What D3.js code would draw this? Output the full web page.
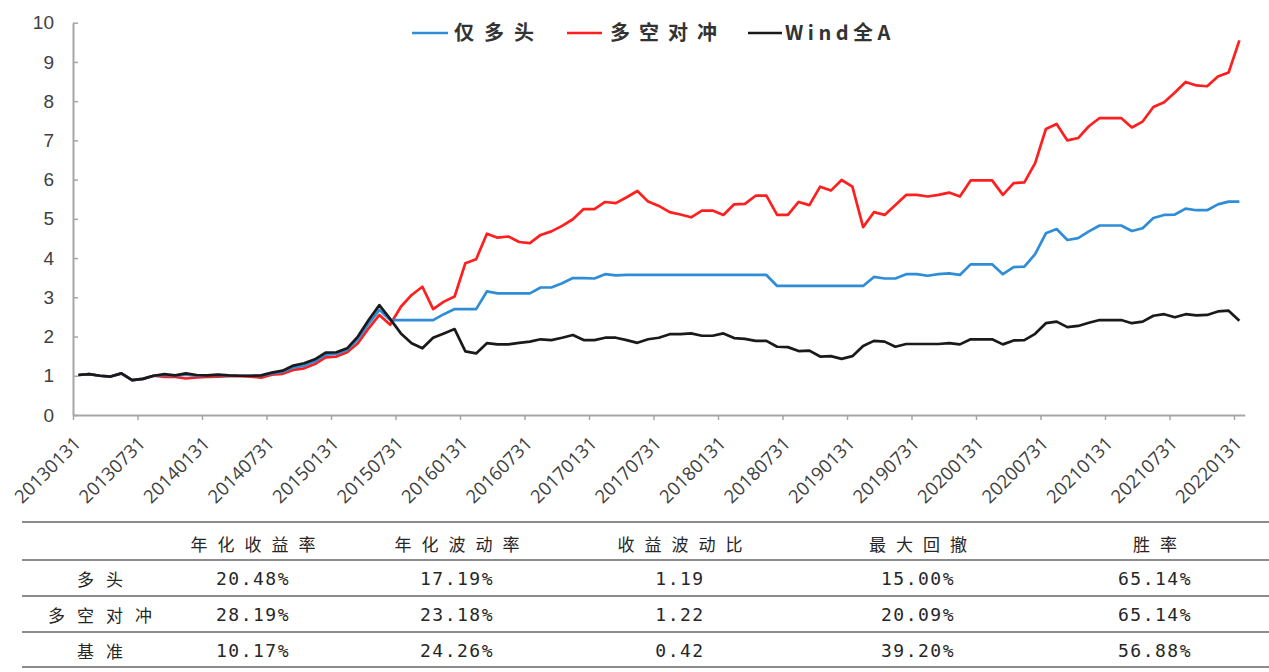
<!DOCTYPE html>
<html><head><meta charset="utf-8">
<script src="https://cdn.jsdelivr.net/npm/d3@7"></script>
<style>
html,body{margin:0;padding:0;background:#fff;}
svg{display:block;}
</style></head><body>
<svg id="chart" width="1269" height="672"></svg>
<script>
// ---------- DATA ----------
const dates = [
"20130131","20130228","20130331","20130430","20130531","20130630","20130731","20130831","20130930","20131031","20131130","20131231",
"20140131","20140228","20140331","20140430","20140531","20140630","20140731","20140831","20140930","20141031","20141130","20141231",
"20150131","20150228","20150331","20150430","20150531","20150630","20150731","20150831","20150930","20151031","20151130","20151231",
"20160131","20160229","20160331","20160430","20160531","20160630","20160731","20160831","20160930","20161031","20161130","20161231",
"20170131","20170228","20170331","20170430","20170531","20170630","20170731","20170831","20170930","20171031","20171130","20171231",
"20180131","20180228","20180331","20180430","20180531","20180630","20180731","20180831","20180930","20181031","20181130","20181231",
"20190131","20190228","20190331","20190430","20190531","20190630","20190731","20190831","20190930","20191031","20191130","20191231",
"20200131","20200229","20200331","20200430","20200531","20200630","20200731","20200831","20200930","20201031","20201130","20201231",
"20210131","20210228","20210331","20210430","20210531","20210630","20210731","20210831","20210930","20211031","20211130","20211231",
"20220131"];

const longOnly = [
1.02,1.04,1.00,0.98,1.06,0.89,0.92,1.00,1.02,1.00,1.03,1.00,
1.01,1.02,1.00,1.00,1.00,1.00,1.06,1.10,1.21,1.26,1.37,1.54,
1.56,1.66,1.93,2.33,2.68,2.42,2.42,2.42,2.42,2.42,2.57,2.70,
2.70,2.70,3.15,3.10,3.10,3.10,3.10,3.25,3.25,3.36,3.49,3.49,
3.48,3.59,3.56,3.57,3.57,3.57,3.57,3.57,3.57,3.57,3.57,3.57,
3.57,3.57,3.57,3.57,3.57,3.29,3.29,3.29,3.29,3.29,3.29,3.29,
3.29,3.29,3.52,3.48,3.48,3.59,3.59,3.55,3.59,3.61,3.57,3.84,
3.84,3.84,3.59,3.77,3.78,4.10,4.63,4.74,4.46,4.51,4.68,4.83,
4.83,4.83,4.69,4.76,5.02,5.10,5.11,5.26,5.22,5.22,5.37,5.44,
5.44];

const longShort = [
1.02,1.04,1.00,0.98,1.06,0.89,0.92,1.00,0.97,0.97,0.93,0.96,
0.97,0.98,0.99,0.99,0.98,0.95,1.03,1.05,1.15,1.19,1.30,1.47,
1.49,1.60,1.83,2.21,2.55,2.30,2.76,3.06,3.27,2.70,2.89,3.02,
3.87,3.97,4.62,4.52,4.55,4.41,4.38,4.59,4.68,4.82,4.99,5.25,
5.25,5.43,5.40,5.55,5.71,5.44,5.33,5.17,5.11,5.04,5.21,5.21,
5.10,5.37,5.38,5.59,5.59,5.10,5.10,5.43,5.35,5.82,5.72,5.99,
5.82,4.79,5.17,5.10,5.35,5.61,5.61,5.57,5.61,5.67,5.57,5.98,
5.98,5.98,5.61,5.91,5.93,6.42,7.29,7.42,7.00,7.06,7.36,7.57,
7.57,7.57,7.33,7.48,7.85,7.97,8.22,8.49,8.40,8.38,8.63,8.73,
9.55];

const windA = [
1.02,1.04,1.00,0.98,1.06,0.89,0.92,1.00,1.04,1.01,1.06,1.02,
1.01,1.03,1.01,1.00,1.00,1.01,1.08,1.13,1.26,1.32,1.42,1.59,
1.60,1.70,2.00,2.42,2.80,2.45,2.08,1.83,1.70,1.97,2.08,2.19,
1.62,1.57,1.83,1.80,1.80,1.84,1.87,1.93,1.91,1.97,2.04,1.91,
1.91,1.97,1.97,1.91,1.84,1.93,1.97,2.06,2.06,2.08,2.02,2.02,
2.08,1.96,1.94,1.89,1.89,1.74,1.73,1.63,1.64,1.49,1.50,1.43,
1.50,1.76,1.89,1.87,1.74,1.81,1.81,1.81,1.81,1.83,1.80,1.93,
1.93,1.93,1.80,1.90,1.91,2.07,2.34,2.38,2.24,2.27,2.35,2.42,
2.42,2.42,2.34,2.38,2.53,2.57,2.49,2.57,2.54,2.55,2.64,2.66,
2.40];

const seriesNames = ["仅多头","多空对冲","Wind全A"];
const seriesColors = ["#2F8DD8","#FF1F1F","#1A1A1A"];

const xTickLabels = ["20130131","20130731","20140131","20140731","20150131","20150731","20160131","20160731",
"20170131","20170731","20180131","20180731","20190131","20190731","20200131","20200731","20210131","20210731","20220131"];
const yTicks = [0,1,2,3,4,5,6,7,8,9,10];

const tableHeaders = ["年化收益率","年化波动率","收益波动比","最大回撤","胜率"];
const tableRowLabels = ["多头","多空对冲","基准"];
const tableRow1 = ["20.48%","17.19%","1.19","15.00%","65.14%"];
const tableRow2 = ["28.19%","23.18%","1.22","20.09%","65.14%"];
const tableRow3 = ["10.17%","24.26%","0.42","39.20%","56.88%"];

// ---------- CHART ----------
const svg = d3.select("#chart");
const axisColor = "#A6A6A6";
const textColor = "#404040";

const x = d3.scaleLinear().domain([0, dates.length]).range([73, 1244.75]);
const y = d3.scaleLinear().domain([0, 10]).range([415, 22.7]);

// Y axis
const yAxis = d3.axisLeft(y).tickValues(yTicks).tickSizeInner(-5).tickSizeOuter(0).tickPadding(19);
const gy = svg.append("g").attr("transform", "translate(73,0)").call(yAxis);
gy.select(".domain").attr("stroke", axisColor).attr("stroke-width", 2);
gy.selectAll(".tick line").attr("stroke", axisColor).attr("stroke-width", 1.5);
gy.selectAll(".tick text").attr("fill", textColor)
  .style("font-family", "'Liberation Sans', Arial, sans-serif").style("font-size", "19px");

// X axis
const xAxis = d3.axisBottom(x)
  .tickValues(xTickLabels.map(l => dates.indexOf(l)))
  .tickFormat(i => dates[i]).tickSizeInner(5).tickSizeOuter(0).tickPadding(0);
const gx = svg.append("g").attr("transform", `translate(0,${y(0)})`).call(xAxis);
gx.select(".domain").attr("stroke", axisColor).attr("stroke-width", 2);
gx.selectAll(".tick line").attr("stroke", axisColor).attr("stroke-width", 1.5);
gx.selectAll(".tick text")
  .attr("fill", textColor)
  .style("font-family", "'Open Sans', 'Noto Sans', sans-serif").style("font-size", "18.5px")
  .attr("text-anchor", "end")
  .attr("y", 0).attr("dy", "0.35em")
  .attr("transform", "translate(4,25) rotate(-45)");

// Lines
const allSeries = [longShort, longOnly, windA];
const colorOf = [seriesColors[1], seriesColors[0], seriesColors[2]];
const line = d3.line().x((d, i) => x(i + 0.5)).y(d => y(d));
svg.append("g").selectAll("path").data(allSeries).join("path")
  .attr("d", d => line(d))
  .attr("fill", "none")
  .attr("stroke", (d, i) => colorOf[i])
  .attr("stroke-width", 2.7)
  .attr("stroke-linejoin", "round");

// Legend
const legendItems = [
  {name: seriesNames[0], color: seriesColors[0], x1: 412, x2: 448, tx: 454, ls: 10},
  {name: seriesNames[1], color: seriesColors[1], x1: 567, x2: 602, tx: 610, ls: 9},
  {name: seriesNames[2], color: seriesColors[2], x1: 748, x2: 782, tx: 785, ls: 4.5}
];
const lg = svg.append("g");
legendItems.forEach(it => {
  lg.append("line").attr("x1", it.x1).attr("x2", it.x2).attr("y1", 33).attr("y2", 33)
    .attr("stroke", it.color).attr("stroke-width", 2.7);
  lg.append("text").attr("x", it.tx).attr("y", 40).text(it.name)
    .attr("fill", "#333").style("font-family", "'Noto Sans CJK SC', sans-serif")
    .style("font-size", "20px").style("font-weight", "bold").style("letter-spacing", it.ls + "px");
});

// ---------- TABLE ----------
const colCenters = [253, 457, 680, 918, 1155];
const rowLabelCenter = 101;
const lineYs = [522, 560, 596, 632, 667];
const rowCenters = [543, 578, 614, 650];
const tg = svg.append("g");
lineYs.forEach(ly => {
  tg.append("line").attr("x1", 22).attr("x2", 1269).attr("y1", ly).attr("y2", ly)
    .attr("stroke", "#8C8C8C").attr("stroke-width", 2.2);
});
const cjkStyle = (s, ls) => s.style("font-family", "'Noto Sans CJK SC', sans-serif").style("font-size", "17px")
  .style("letter-spacing", ls + "px").attr("fill", "#262626").attr("text-anchor", "middle")
  .attr("dominant-baseline", "central");
const numStyle = s => s.style("font-family", "'DejaVu Sans Mono', monospace").style("font-size", "18px")
  .style("letter-spacing", "1.5px").attr("fill", "#262626").attr("text-anchor", "middle")
  .attr("dominant-baseline", "central");

tableHeaders.forEach((h, j) => {
  tg.append("text").attr("x", colCenters[j] + 5).attr("y", rowCenters[0]).text(h).call(cjkStyle, 10);
});
const rows = [tableRow1, tableRow2, tableRow3];
rows.forEach((r, k) => {
  tg.append("text").attr("x", rowLabelCenter + 5).attr("y", rowCenters[k + 1]).text(tableRowLabels[k]).call(cjkStyle, 12);
  r.forEach((v, j) => {
    tg.append("text").attr("x", colCenters[j]).attr("y", rowCenters[k + 1]).text(v).call(numStyle);
  });
});
</script>
</body></html>
